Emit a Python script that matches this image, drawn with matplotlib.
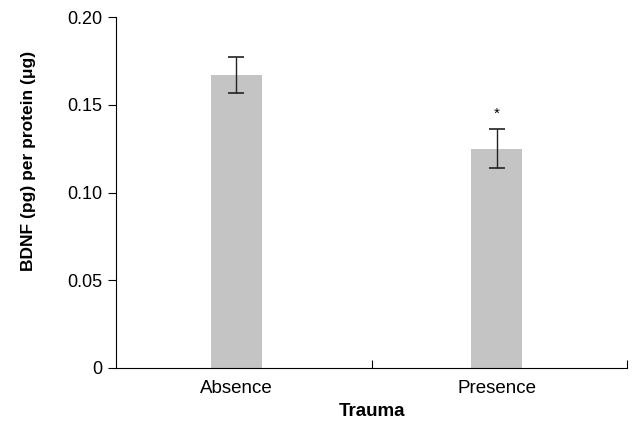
import matplotlib
matplotlib.use("Agg")
import matplotlib.pyplot as plt

# Datos
categorias = ["Absence", "Presence"]
valores = [0.167, 0.125]
errores = [0.010, 0.011]

plt.rcParams['font.family'] = ['Liberation Sans', 'DejaVu Sans']

fig = plt.figure(figsize=(6.38, 4.28), dpi=100)
ax = fig.add_axes([0.1818, 0.1402, 0.8010, 0.8198])

pos = [0.47, 1.49]
ax.bar(pos, valores, width=0.2, color='#c4c4c4', edgecolor='none')
ax.errorbar(pos, valores, yerr=errores, fmt='none', ecolor='#222222',
            elinewidth=1, capsize=5.5, capthick=1.2)
ax.text(pos[1], valores[1] + errores[1] + 0.005, '*', ha='center', va='bottom', fontsize=11)

ax.set_xlim(0, 2)
ax.set_ylim(0, 0.20)
ax.set_yticks([0, 0.05, 0.10, 0.15, 0.20])
ax.set_yticklabels(['0', '0.05', '0.10', '0.15', '0.20'])
ax.set_xticks([1, 2])
ax.set_xticklabels([])
ax.set_xticks(pos, minor=True)
ax.set_xticklabels(categorias, minor=True)
ax.tick_params(axis='x', which='minor', length=0, pad=9, labelsize=13.5)
ax.tick_params(axis='x', which='major', length=6, direction='in')
ax.tick_params(axis='y', length=6, labelsize=13, pad=4)

ax.spines['top'].set_visible(False)
ax.spines['right'].set_visible(False)

ax.set_ylabel('BDNF (pg) per protein (μg)', fontweight='bold', fontsize=12.5)
ax.yaxis.set_label_coords(-0.157, 0.59)
ax.set_xlabel('Trauma', fontweight='bold', fontsize=13.5, labelpad=4)

plt.savefig('out.png', dpi=100)
